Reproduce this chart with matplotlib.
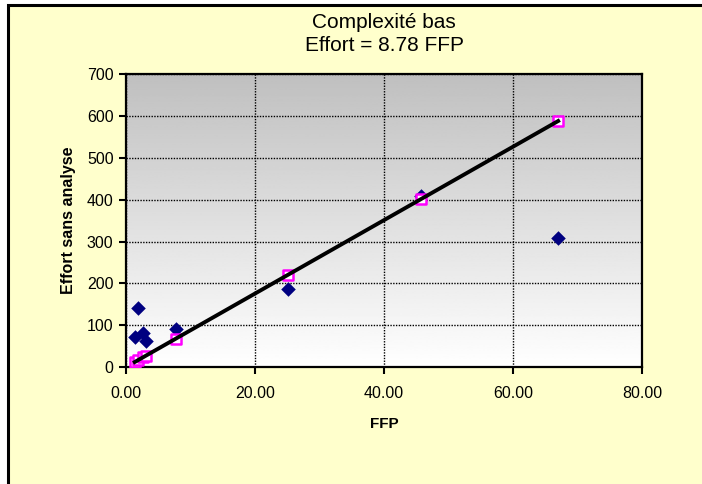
import numpy as np
import matplotlib
matplotlib.use("Agg")
import matplotlib.pyplot as plt
from matplotlib.patches import Rectangle

plt.rcParams['font.family'] = ['Liberation Sans', 'DejaVu Sans']

# Observed effort against FFP
ffp = [1.35, 1.9, 2.7, 3.1, 7.75, 25.1, 45.8, 67.0]
effort = [72, 141, 82, 63, 91, 186, 410, 308]
# Effort estimated by the model
effort_model = [12, 17, 24, 27, 68, 220, 402, 588]
slope = 8.78

title = "Complexité bas\nEffort = 8.78 FFP"
x_ticks = [0, 20, 40, 60, 80]
y_ticks = [0, 100, 200, 300, 400, 500, 600, 700]

W, H = 702, 484
fig = plt.figure(figsize=(W / 100, H / 100), dpi=100)
fig.patch.set_facecolor('white')

# Chart area frame
frame = Rectangle((8 / W, -0.05), 1.2, 1 - 5 / H + 0.05, transform=fig.transFigure,
                  facecolor='#FFFFCC', edgecolor='black', linewidth=2.2, zorder=-10)
fig.patches.append(frame)

ax = fig.add_axes([126 / W, 1 - 367 / H, (642 - 126) / W, (367 - 74.3) / H])
ax.set_zorder(1)

# Gray-to-white gradient plot background
grad = np.linspace(0.75, 1.0, 256).reshape(-1, 1)
ax.imshow(grad, extent=[0, 1, 0, 1], transform=ax.transAxes, cmap='gray',
          vmin=0, vmax=1, aspect='auto', origin='upper', zorder=0)
ax.set_xlim(0, 80)
ax.set_ylim(0, 700)

ax.set_xticks(x_ticks)
ax.set_xticklabels([f"{v:.2f}" for v in x_ticks])
ax.set_yticks(y_ticks)
ax.grid(True, color='black', linestyle=(0, (1, 1)), linewidth=1.0, zorder=1)

for s in ax.spines.values():
    s.set_linewidth(1.6)
    s.set_color('black')
ax.tick_params(direction='out', length=5, width=1.5, labelsize=11.5)
ax.tick_params(axis='x', pad=9)
ax.tick_params(axis='y', pad=4)

# Observed points
ax.scatter(ffp, effort, marker='D', s=55, color='#000080', zorder=3, linewidths=0)
# Model points
ax.scatter(ffp, effort_model, marker='s', s=45, facecolors='white',
           edgecolors='#FF00FF', linewidths=1.8, zorder=4)
# Regression line through the origin
xl = np.array([min(ffp), max(ffp)])
ax.plot(xl, slope * xl, color='black', linewidth=2.8, zorder=5)

ax.set_xlabel("FFP", fontsize=11, fontweight='bold', labelpad=11)
ax.set_ylabel("Effort sans analyse", fontsize=11.5, fontweight='bold', labelpad=8)

fig.text(384 / W, 1 - 34 / H, title, ha='center', va='center', fontsize=15,
         linespacing=1.3)

fig.savefig("out.png", dpi=100, facecolor=fig.get_facecolor())
